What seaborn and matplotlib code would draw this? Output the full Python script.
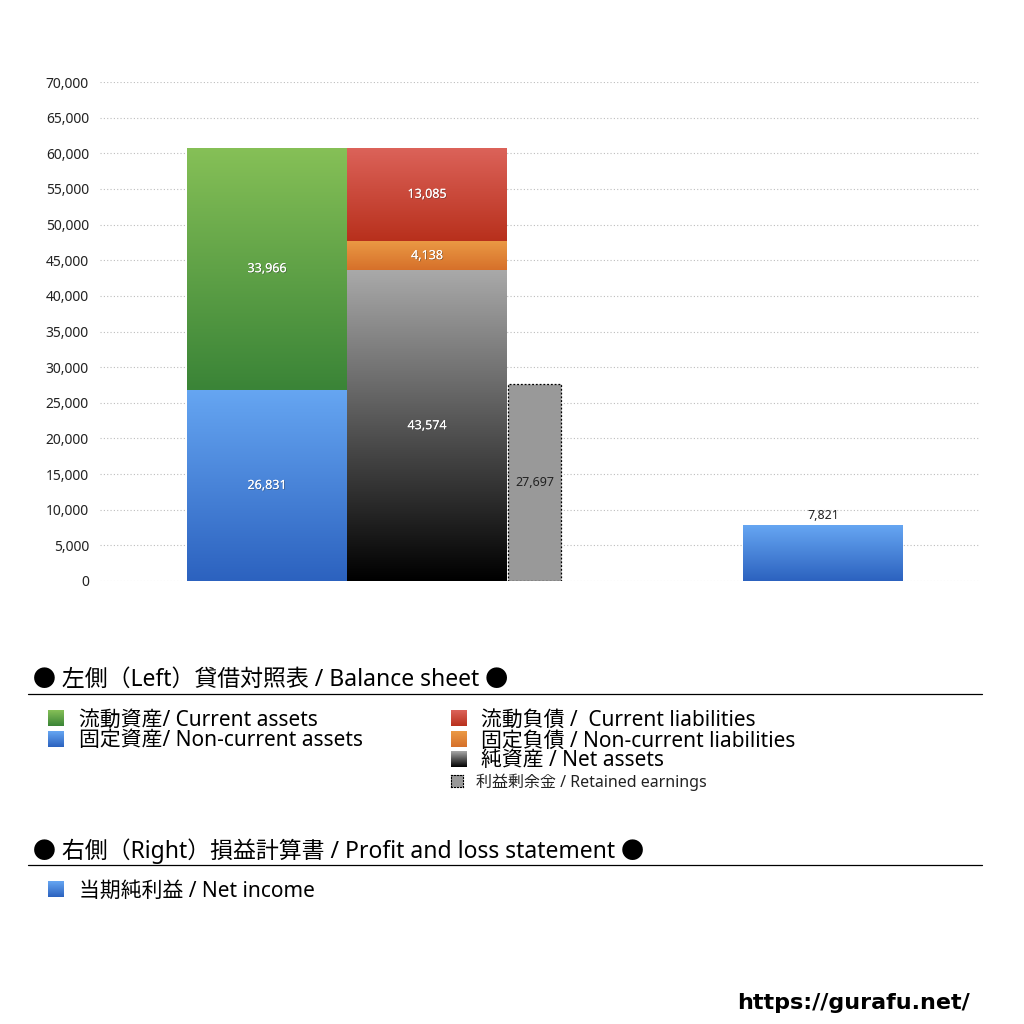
import numpy as np
import matplotlib
matplotlib.use("Agg")
import matplotlib.pyplot as plt
import matplotlib.patheffects as pe
from matplotlib.lines import Line2D
from matplotlib.colors import LinearSegmentedColormap
import seaborn as sns

sns.set_theme(style="white")
plt.rcParams['font.family'] = ['Noto Sans', 'Noto Sans CJK JP', 'DejaVu Sans']

# data (百万円)
left_names = ['固定資産/ Non-current assets', '流動資産/ Current assets']
left_values = [26831, 33966]
mid_names = ['純資産 / Net assets', '固定負債 / Non-current liabilities', '流動負債 /  Current liabilities']
mid_values = [43574, 4138, 13085]
retained_name = '利益剰余金 / Retained earnings'
retained_value = 27697
pl_name = '当期純利益 / Net income'
pl_value = 7821
y_ticks = list(range(0, 70001, 5000))

# colours (top, bottom) of each gradient
BLUE = ('#66a6f2', '#2c62bf')
GREEN = ('#86c057', '#3a8437')
RED = ('#dc635a', '#b8301c')
ORANGE = ('#eb9a45', '#d6702a')
GREYS = ('#a9a9a9', '#000000')
RET_GREY = '#999999'

W, H = 1024, 1024
fig = plt.figure(figsize=(10.24, 10.24), dpi=100)
fig.patch.set_facecolor('white')

# plot area in pixels: x 100..980, y 82..581
ax = fig.add_axes([100 / W, 1 - 581 / H, 880 / W, 499 / H])
PX = 160.0  # pixels per bar width unit
x_left, x_mid, x_ret, x_right = 0.0, 1.0, (534.5 - 267) / PX, (823 - 267) / PX
ret_width = 53 / PX

grad = np.linspace(0, 1, 256).reshape(-1, 1)


def grad_bar(x, bottom, height, width, cols):
    sns.barplot(x=[x], y=[height], bottom=bottom, width=width, native_scale=True,
                orient='x', color=cols[1], saturation=1, linewidth=0, ax=ax, zorder=2)
    patch = ax.patches[-1]
    x0, y0 = patch.get_x(), patch.get_y()
    cmap = LinearSegmentedColormap.from_list('g', [cols[1], cols[0]])
    im = ax.imshow(grad, cmap=cmap, origin='lower', aspect='auto', interpolation='bicubic',
                   extent=[x0, x0 + patch.get_width(), y0, y0 + patch.get_height()], zorder=2.1)
    im.set_clip_path(patch)
    return patch


def inner_label(x, y, v, color='white', shadow=True):
    t = ax.text(x, y, f'{v:,}', ha='center', va='center', fontsize=9, color=color, zorder=5)
    if shadow:
        t.set_path_effects([pe.withSimplePatchShadow(offset=(0.6, -0.6), shadow_rgbFace='#333333', alpha=0.45),
                            pe.Normal()])


# left: assets
bottom = 0
for v, cols in zip(left_values, [BLUE, GREEN]):
    grad_bar(x_left, bottom, v, 1.0, cols)
    inner_label(x_left, bottom + v / 2, v)
    bottom += v

# middle: net assets + liabilities
bottom = 0
for v, cols in zip(mid_values, [GREYS, ORANGE, RED]):
    grad_bar(x_mid, bottom, v, 1.0, cols)
    inner_label(x_mid, bottom + v / 2, v)
    bottom += v

# retained earnings
sns.barplot(x=[x_ret], y=[retained_value], width=ret_width, native_scale=True, orient='x',
            color=RET_GREY, saturation=1, edgecolor='black', linewidth=0.9, linestyle=(0, (1.5, 1.5)),
            ax=ax, zorder=2)
inner_label(x_ret, retained_value / 2, retained_value, color='#222222', shadow=False)

# right: net income
grad_bar(x_right, 0, pl_value, 1.0, BLUE)
ax.text(x_right, pl_value + 450, f'{pl_value:,}', ha='center', va='bottom', fontsize=9, color='#222222')

ax.set_xlim((100 - 267) / PX, (980 - 267) / PX)
ax.set_ylim(0, 70000)
ax.set_yticks(y_ticks)
ax.set_yticklabels([f'{t:,}' for t in y_ticks], fontsize=10, color='#222222')
ax.set_xticks([])
ax.set_xlabel('')
ax.set_ylabel('')
ax.tick_params(axis='y', length=0, pad=8)
ax.yaxis.grid(True, linestyle=(0, (1, 2)), color='#bdbdbd', linewidth=0.8)
ax.set_axisbelow(True)
for s in ax.spines.values():
    s.set_visible(False)


# legend area (figure pixels)
def fx(x):
    return x / W


def fy(y):
    return 1 - y / H


def legend_square(x, y, size, cols, dotted=False):
    sax = fig.add_axes([fx(x), fy(y + size / 2), size / W, size / H])
    if dotted:
        sax.set_facecolor(RET_GREY)
        sax.set_xticks([])
        sax.set_yticks([])
        for s in sax.spines.values():
            s.set_linestyle(':')
            s.set_color('black')
            s.set_linewidth(0.8)
    else:
        cmap = LinearSegmentedColormap.from_list('g', [cols[1], cols[0]])
        sax.imshow(grad, cmap=cmap, origin='lower', aspect='auto')
        sax.axis('off')


def heading(y, text):
    fig.text(fx(33), fy(y + 1), text, fontsize=16.5, va='center', ha='left', color='black')
    fig.add_artist(Line2D([fx(28), fx(982)], [fy(y + 15)] * 2, color='black', lw=0.9))


heading(679, '● 左側（Left）貸借対照表 / Balance sheet ●')

col1 = [(left_names[1], GREEN, 718), (left_names[0], BLUE, 739)]
for name, cols, y in col1:
    legend_square(48, y, 16, cols)
    fig.text(fx(79), fy(y + 2), name, fontsize=15, va='center', ha='left', color='black')

col2 = [(mid_names[2], RED, 718), (mid_names[1], ORANGE, 739), (mid_names[0], GREYS, 759)]
for name, cols, y in col2:
    legend_square(451, y, 16, cols)
    fig.text(fx(481), fy(y + 2), name, fontsize=15, va='center', ha='left', color='black')

legend_square(451, 781, 12, None, dotted=True)
fig.text(fx(476), fy(782), retained_name, fontsize=11.5, va='center', ha='left', color='#222222')

heading(850, '● 右側（Right）損益計算書 / Profit and loss statement ●')
legend_square(48, 889, 16, BLUE)
fig.text(fx(79), fy(891), pl_name, fontsize=15, va='center', ha='left', color='black')

fig.text(fx(970), fy(1003), 'https://gurafu.net/', fontsize=16, fontweight='bold',
         family='DejaVu Sans', ha='right', va='center', color='black')

fig.savefig('out.png', dpi=100, facecolor='white')
